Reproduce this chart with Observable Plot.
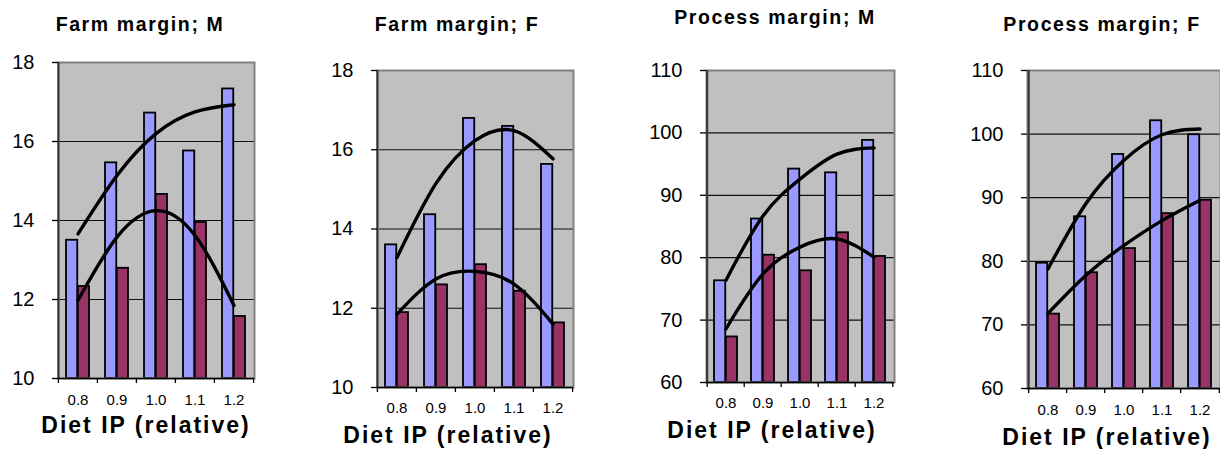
<!DOCTYPE html>
<html><head><meta charset="utf-8">
<script src="https://cdn.jsdelivr.net/npm/d3@7"></script>
<script src="https://cdn.jsdelivr.net/npm/@observablehq/plot@0.6"></script>
<style>
body{margin:0;background:#fff;overflow:hidden}
#wrap{position:relative;width:1220px;height:449px;overflow:hidden;font-family:"Liberation Sans",Arial,sans-serif;background:#fff}
.panel{position:absolute;z-index:1}
.title{position:absolute;font-weight:bold;font-size:19.5px;line-height:19.5px;letter-spacing:1.6px;white-space:nowrap;transform:translateX(-50%);z-index:2;color:#000}
.xtitle{position:absolute;font-weight:bold;font-size:23px;line-height:23px;letter-spacing:2px;white-space:nowrap;transform:translateX(-50%);z-index:2;color:#000}
</style></head><body><div id="wrap"></div>
<script>
// categories
const ip = ["0.8", "0.9", "1.0", "1.1", "1.2"];

// tick labels
const farmTicks = [10, 12, 14, 16, 18];
const processTicks = [60, 70, 80, 90, 100, 110];

// Farm margin; M
const farmM_blue = [13.5, 15.46, 16.72, 15.76, 17.33];
const farmM_red = [12.33, 12.79, 14.66, 13.95, 11.57];
const farmM_trendBlue = [13.66, 15.14, 16.2, 16.75, 16.93];
const farmM_trendRed = [11.98, 13.58, 14.25, 13.62, 11.85];

// Farm margin; F
const farmF_blue = [13.6, 14.36, 16.79, 16.59, 15.63];
const farmF_red = [11.89, 12.59, 13.1, 12.43, 11.63];
const farmF_trendBlue = [13.28, 15.15, 16.23, 16.48, 15.77];
const farmF_trendRed = [11.85, 12.74, 12.93, 12.61, 11.6];

// Process margin; M
const procM_blue = [76.3, 86.2, 94.2, 93.6, 98.8];
const procM_red = [67.3, 80.4, 77.9, 84.0, 80.2];
const procM_trendBlue = [76.4, 86.7, 92.6, 96.6, 97.6];
const procM_trendRed = [68.6, 77.4, 81.7, 83.0, 80.1];

// Process margin; F
const procF_blue = [79.7, 87.0, 96.8, 102.1, 99.9];
const procF_red = [71.7, 78.2, 82.0, 87.5, 89.6];
const procF_trendBlue = [78.8, 89.1, 95.9, 99.9, 100.8];
const procF_trendRed = [71.8, 77.8, 82.5, 86.4, 89.6];

const panels = [
  {title: "Farm margin; M", blue: farmM_blue, red: farmM_red, tb: farmM_trendBlue, tr: farmM_trendRed,
   domain: [10, 18], ticks: farmTicks, box: [58, 254, 62, 378], titleX: 140, titleBase: 31.7, xTitleX: 146, xTitleBase: 433.3, labelGap: 16.3, mr: 6},
  {title: "Farm margin; F", blue: farmF_blue, red: farmF_red, tb: farmF_trendBlue, tr: farmF_trendRed,
   domain: [10, 18], ticks: farmTicks, box: [377, 573, 70, 387], titleX: 457, titleBase: 31.7, xTitleX: 448, xTitleBase: 443, labelGap: 15, mr: 6},
  {title: "Process margin; M", blue: procM_blue, red: procM_red, tb: procM_trendBlue, tr: procM_trendRed,
   domain: [60, 110], ticks: processTicks, box: [706, 894, 70, 382], titleX: 775, titleBase: 25, xTitleX: 772, xTitleBase: 438, labelGap: 15.3, mr: 6},
  {title: "Process margin; F", blue: procF_blue, red: procF_red, tb: procF_trendBlue, tr: procF_trendRed,
   domain: [60, 110], ticks: processTicks, box: [1027, 1220, 70, 388], titleX: 1102, titleBase: 31.7, xTitleX: 1107, xTitleBase: 445, labelGap: 16.3, mr: 0}
];

const wrap = document.getElementById("wrap");
const svgTop = 40, svgBottom = 432, ml = 55;

panels.forEach((p) => {
  const [L, R, T, B] = p.box;
  const W = R - L;
  const step = W / ip.length;
  const bw = 23.5;
  const pi = 1 - bw / step;
  const rows = ip.map((c, j) => ({ip: c, blue: p.blue[j], red: p.red[j], tb: p.tb[j], tr: p.tr[j]}));
  const y0 = p.domain[0];
  const chart = Plot.plot({
    width: W + ml + p.mr,
    height: svgBottom - svgTop,
    marginLeft: ml,
    marginRight: p.mr,
    marginTop: T - svgTop,
    marginBottom: svgBottom - B,
    style: {background: "transparent", fontFamily: "Liberation Sans, Arial, sans-serif", overflow: "visible", color: "#000"},
    x: {domain: ip, paddingInner: pi, paddingOuter: pi / 2},
    y: {domain: p.domain},
    marks: [
      Plot.frame({fill: "#c0c0c0"}),
      Plot.ruleY(p.ticks.slice(1, -1), {stroke: "#111", strokeWidth: 1.2}),
      Plot.barY(rows, {x: "ip", y1: y0, y2: "blue", fill: "#9999ff", stroke: "#000", strokeWidth: 1.8, insetRight: bw / 2}),
      Plot.barY(rows, {x: "ip", y1: y0, y2: "red", fill: "#993366", stroke: "#000", strokeWidth: 1.8, insetLeft: bw / 2}),
      Plot.line(rows, {x: "ip", y: "tb", stroke: "#000", strokeWidth: 3.4, curve: "natural"}),
      Plot.line(rows, {x: "ip", y: "tr", stroke: "#000", strokeWidth: 3.4, curve: "natural"}),
      Plot.frame({stroke: "#808080", strokeWidth: 2}),
      Plot.ruleX([ip[0]], {x: (d) => d, dx: -step / 2, stroke: "#333", strokeWidth: 2}),
      Plot.ruleY([y0], {stroke: "#000", strokeWidth: 1.6}),
      Plot.ruleX(ip, {x: (d) => d, dx: -step / 2, y1: y0, y2: y0, insetTop: 5, stroke: "#000", strokeWidth: 1.3}),
      Plot.ruleX([ip[ip.length - 1]], {x: (d) => d, dx: step / 2, y1: y0, y2: y0, insetTop: 5, stroke: "#000", strokeWidth: 1.3}),
      Plot.axisY({ticks: p.ticks, tickSize: 6, tickPadding: 18, fontSize: 20, label: null, strokeWidth: 1.3, tickFormat: (d) => String(d)}),
      Plot.axisX({tickSize: 0, tickPadding: p.labelGap, fontSize: 15, label: null})
    ]
  });
  const div = document.createElement("div");
  div.className = "panel";
  div.style.left = (L - ml) + "px";
  div.style.top = svgTop + "px";
  div.style.width = (W + ml + p.mr) + "px";
  div.appendChild(chart);
  wrap.appendChild(div);

  const t = document.createElement("div");
  t.className = "title";
  t.textContent = p.title;
  t.style.left = p.titleX + "px";
  t.style.top = (p.titleBase - 0.8465 * 19.5) + "px";
  wrap.appendChild(t);

  const xt = document.createElement("div");
  xt.className = "xtitle";
  xt.textContent = "Diet IP (relative)";
  xt.style.left = p.xTitleX + "px";
  xt.style.top = (p.xTitleBase - 0.8465 * 23) + "px";
  wrap.appendChild(xt);
});
</script>
</body></html>
